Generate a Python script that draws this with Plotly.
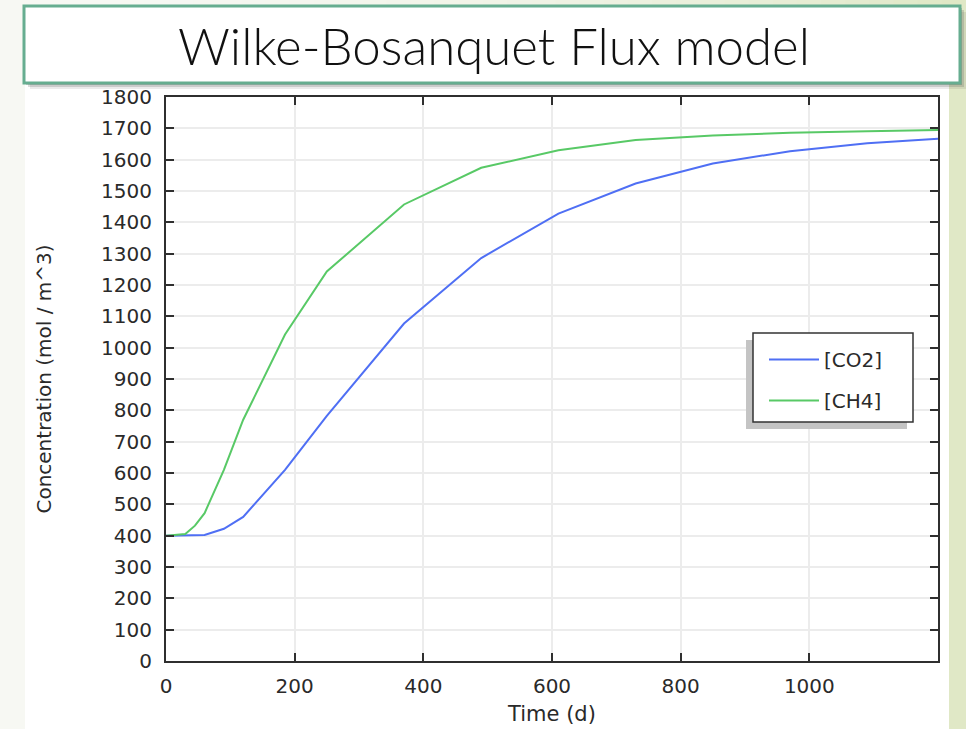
import plotly.graph_objects as go

# Simulated concentrations over time (Wilke-Bosanquet flux model)
time_co2 = [0, 30, 60, 90, 120, 185, 250, 370, 490, 610, 730, 850, 970, 1090, 1200]
conc_co2 = [400, 400, 402, 422, 460, 610, 782, 1077, 1286, 1428, 1524, 1588, 1627, 1652, 1667]

time_ch4 = [0, 30, 45, 60, 90, 120, 185, 250, 370, 490, 610, 730, 850, 970, 1090, 1200]
conc_ch4 = [400, 405, 432, 472, 610, 770, 1042, 1243, 1457, 1574, 1630, 1663, 1677, 1686, 1691, 1695]

series_names = ["[CO2]", "[CH4]"]
series_colors = ["#4f6ff4", "#58c966"]

x_ticks = [0, 200, 400, 600, 800, 1000]
y_ticks = list(range(0, 1801, 100))

W, H = 966, 729
L, R, T, B = 166, 28, 97, 68
PW, PH = W - L - R, H - T - B


def px(x):
    return (x - L) / PW


def py(y):
    return (H - B - y) / PH


fig = go.Figure()
for t, c, name, col in zip([time_co2, time_ch4], [conc_co2, conc_ch4], series_names, series_colors):
    fig.add_trace(go.Scatter(x=t, y=c, mode="lines", name=name, legendgroup=name,
                             line=dict(color=col, width=2)))

shapes = []
# slide background: soft horizontal gradient
n = 40
c0 = (247, 248, 243)
c1 = (224, 232, 198)
for i in range(n):
    f = i / (n - 1)
    col = tuple(round(a + (b - a) * f ** 2) for a, b in zip(c0, c1))
    shapes.append(dict(type="rect", xref="paper", yref="paper", layer="below",
                       x0=px(i * W / n), x1=px((i + 1) * W / n + 1), y0=py(H), y1=py(0),
                       line=dict(width=0), fillcolor="rgb(%d,%d,%d)" % col))
# white content panel
shapes.append(dict(type="rect", xref="paper", yref="paper", layer="below",
                   x0=px(25), x1=px(949), y0=py(H + 2), y1=py(40),
                   line=dict(width=0), fillcolor="white"))
# title box shadow and box
for k, op in [(6, 0.10), (4, 0.18), (2, 0.25)]:
    shapes.append(dict(type="rect", xref="paper", yref="paper", layer="above",
                       x0=px(24 + k), x1=px(960 + k), y0=py(83 + k), y1=py(6 + k),
                       line=dict(width=0), fillcolor="rgba(60,60,60,%.2f)" % op))
shapes.append(dict(type="rect", xref="paper", yref="paper", layer="above",
                   x0=px(24), x1=px(960), y0=py(83), y1=py(6),
                   line=dict(width=3, color="#66ad90"), fillcolor="white"))
# legend frame with drop shadow
shapes.append(dict(type="rect", xref="paper", yref="paper", layer="above",
                   x0=px(746), x1=px(907), y0=py(429), y1=py(340),
                   line=dict(width=0), fillcolor="#c4c4c4"))
shapes.append(dict(type="rect", xref="paper", yref="paper", layer="above",
                   x0=px(753), x1=px(913), y0=py(422), y1=py(333),
                   line=dict(width=1.5, color="#333333"), fillcolor="white"))

fig.update_layout(
    width=W, height=H, autosize=False,
    margin=dict(l=L, r=R, t=T, b=B, pad=0, autoexpand=False),
    paper_bgcolor="#f2f4ea",
    plot_bgcolor="white",
    font=dict(family="DejaVu Sans", size=20, color="#2a2a2a"),
    shapes=shapes,
    showlegend=True,
    legend=dict(x=px(764), y=py(340), xanchor="left", yanchor="top",
                bgcolor="rgba(0,0,0,0)", borderwidth=0,
                font=dict(family="DejaVu Sans", size=20, color="#2a2a2a"),
                itemwidth=50, tracegroupgap=12),
    annotations=[dict(text="Wilke-Bosanquet Flux model", xref="paper", yref="paper",
                      x=px(494), y=py(46), xanchor="center", yanchor="middle",
                      showarrow=False,
                      font=dict(family="Lato", size=51, color="#111111", weight=300))],
)

axis_common = dict(showline=True, linecolor="#2f2f2f", linewidth=2, mirror="allticks",
                   ticks="inside", ticklen=8, tickwidth=2, tickcolor="#2f2f2f",
                   showgrid=True, gridcolor="#ececec", gridwidth=2, zeroline=False,
                   automargin=False,
                   tickfont=dict(family="DejaVu Sans", size=20, color="#2a2a2a"))

fig.update_xaxes(range=[0, 1200], tickvals=x_ticks, ticklabelstandoff=6,
                 title=dict(text="Time (d)", standoff=9,
                            font=dict(family="DejaVu Sans", size=21, color="#2a2a2a")),
                 **axis_common)
fig.update_yaxes(range=[0, 1800], tickvals=y_ticks, ticklabelstandoff=8,
                 title=dict(text="Concentration (mol / m^3)", standoff=44,
                            font=dict(family="DejaVu Sans", size=20, color="#2a2a2a")),
                 **axis_common)

fig.write_html("out.html")
